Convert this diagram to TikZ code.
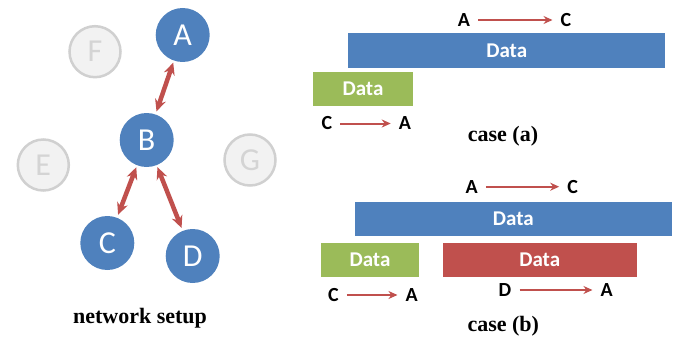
\documentclass[tikz,border=0pt]{standalone}
\usepackage{fontspec}
\setmainfont{Liberation Serif}
\setsansfont{Carlito}
\usetikzlibrary{arrows.meta,positioning}

\definecolor{hostblue}{HTML}{4F81BD}
\definecolor{idlefill}{HTML}{F2F2F2}
\definecolor{idledraw}{HTML}{D0D0D0}
\definecolor{idletext}{HTML}{D4D4D4}
\definecolor{linkred}{HTML}{C0504D}
\definecolor{ackgreen}{HTML}{9BBB59}

\begin{document}
\begin{tikzpicture}[x=1pt,y=-1pt,
    host/.style={circle,fill=hostblue,text=white,minimum size=54pt,inner sep=0pt,
      font=\sffamily\fontsize{32}{32}\selectfont},
    idle/.style={circle,fill=idlefill,draw=idledraw,line width=2.5pt,text=idletext,
      minimum size=51pt,inner sep=0pt,font=\sffamily\fontsize{32}{32}\selectfont},
    link/.style={{Stealth[length=12pt,width=11pt]}-{Stealth[length=12pt,width=11pt]},
      draw=linkred,line width=4.5pt,shorten <=2pt,shorten >=3pt},
    frame/.style={rectangle,minimum height=34.5pt,inner sep=0pt,text=white,
      font=\sffamily\bfseries\fontsize{21}{21}\selectfont},
    tag/.style={inner sep=2pt,font=\sffamily\bfseries\fontsize{20}{20}\selectfont},
    flow/.style={-{Stealth[length=9pt,width=8pt]},draw=linkred,line width=2pt,
      shorten <=6pt,shorten >=6pt},
    caption/.style={font=\bfseries\fontsize{22}{22}\selectfont}]
  \useasboundingbox (0,0) rectangle (677,337);

  % network
  \node[host] (A) at (182.7,35)  {A};
  \node[host] (B) at (146.7,140) {B};
  \node[host] (C) at (107.3,243) {C};
  \node[host] (D) at (192.7,256) {D};
  \node[idle] (F) at (95,51.7)   {F};
  \node[idle] (E) at (43.3,165)  {E};
  \node[idle] (G) at (250,160)   {G};
  \path
    (A) edge [link] (B)
    (B) edge [link] (C)
    (B) edge [link] (D);
  \node[caption] (setup) at (140,318) {network setup};

  % case (a)
  \node[tag] (a_src) at (464,20) {A};
  \node[tag] (a_dst) at (566,20) {C};
  \node[frame,fill=hostblue,minimum width=316.7pt] (a_long) at (506.7,50.5) {Data};
  \node[frame,fill=ackgreen,minimum width=99.4pt] (a_ack) at (363,89.2) {Data};
  \node[tag] (a_csrc) at (327,123.5) {C};
  \node[tag] (a_cdst) at (405,123.5) {A};
  \path
    (a_src)  edge [flow] (a_dst)
    (a_csrc) edge [flow] (a_cdst);
  \node[caption] (case_a) at (503,136.7) {case (a)};

  % case (b)
  \node[tag] (b_src) at (471.7,186.7) {A};
  \node[tag] (b_dst) at (572.7,186.7) {C};
  \node[frame,fill=hostblue,minimum width=316.7pt] (b_long) at (513.3,218.8) {Data};
  \node[frame,fill=ackgreen,minimum width=98.6pt] (b_ack) at (370,260) {Data};
  \node[frame,fill=linkred,minimum width=194pt] (b_hidden) at (539.7,260) {Data};
  \node[tag] (b_csrc) at (333.3,295) {C};
  \node[tag] (b_cdst) at (411.7,295) {A};
  \node[tag] (b_dsrc) at (505,290) {D};
  \node[tag] (b_ddst) at (606.7,290) {A};
  \path
    (b_src)  edge [flow] (b_dst)
    (b_csrc) edge [flow] (b_cdst)
    (b_dsrc) edge [flow] (b_ddst);
  \node[caption] (case_b) at (503.3,326.7) {case (b)};
\end{tikzpicture}
\end{document}
